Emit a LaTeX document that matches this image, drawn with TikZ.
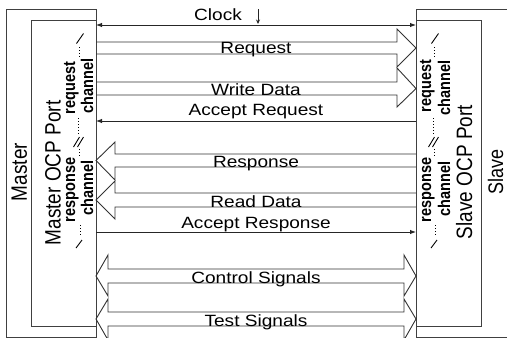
\documentclass[tikz,border=0pt]{standalone}
\usepackage{fontspec}
\usepackage{graphicx}
\setmainfont{Liberation Sans}
\newfontfamily\widefont{Liberation Sans}[FakeStretch=1.17]
\usetikzlibrary{arrows.meta}

% upright text for rotated labels, widened across the line direction
\newcommand{\uptext}[2]{\scalebox{1}[1.17]{\fontsize{#1}{#1}\selectfont #2}}

\begin{document}
\begin{tikzpicture}[x=1pt,y=-1pt,
  >={Latex[length=6pt,width=4.5pt]},
  box/.style={draw=black!75, line width=1pt, inner sep=0pt, outer sep=0pt},
  fat/.style={draw=black!80, line width=0.9pt, line join=miter},
  wire/.style={draw=black!85, line width=0.9pt},
  hlabel/.style={font=\widefont\fontsize{16.3}{19}\selectfont, anchor=base, inner sep=0pt},
  vlabel/.style={rotate=90, anchor=base, inner sep=0pt},
  marks/.style={draw=black, line width=0.9pt},
  dots/.style={draw=black, line width=1pt, dash pattern=on 1pt off 2pt}
]
\useasboundingbox (0,0) rectangle (507,338);
\clip (0,0) rectangle (507,338);

% component and port boxes
\node[box, anchor=north west, minimum width=90pt, minimum height=328pt] (master) at (6,9) {};
\node[box, anchor=north west, minimum width=65pt, minimum height=306pt] (mport) at (31,20) {};
\node[box, anchor=north west, minimum width=130pt, minimum height=328pt] (slave) at (416,9) {};
\node[box, anchor=north west, minimum width=65pt, minimum height=306pt] (sport) at (416,20) {};

% box titles
\node[vlabel] (mtitle) at (27,172) {\uptext{19}{Master}};
\node[vlabel] (mporttitle) at (60.5,173) {\uptext{19}{Master OCP Port}};
\node[vlabel] (sporttitle) at (472,172) {\uptext{19}{Slave OCP Port}};
\node[vlabel] (stitle) at (503,171.5) {\uptext{18}{Slave}};

% channel captions
\node[vlabel] (mreq) at (75,88) {\uptext{14.5}{\bfseries request}};
\node[vlabel] (mreqch) at (93,86) {\uptext{14.5}{\bfseries channel}};
\node[vlabel] (mresp) at (75,190) {\uptext{14.5}{\bfseries response}};
\node[vlabel] (mrespch) at (93,188) {\uptext{14.5}{\bfseries channel}};
\node[vlabel] (sreq) at (431,86) {\uptext{14.5}{\bfseries request}};
\node[vlabel] (sreqch) at (450,88) {\uptext{14.5}{\bfseries channel}};
\node[vlabel] (sresp) at (431,190) {\uptext{14.5}{\bfseries response}};
\node[vlabel] (srespch) at (450,189) {\uptext{14.5}{\bfseries channel}};

% channel range markers: slashes and dotted leaders
\foreach \cx in {79,434}{
  \draw[marks] (\cx-2.5,43.5) -- (\cx+4.5,33.5);
  \draw[dots] (\cx,47) -- (\cx,59);
  \draw[dots] (\cx-1,118) -- (\cx-1,135);
  \draw[marks] (\cx-5.5,147) -- (\cx+0.5,137);
  \draw[marks] (\cx-1.5,147) -- (\cx+4.5,137);
  \draw[dots] (\cx,149) -- (\cx,157);
  \draw[dots] (\cx+1,225) -- (\cx+1,237);
  \draw[marks] (\cx-3,248) -- (\cx+3,240);
}

% clock
\coordinate (clkM) at (96,25);
\coordinate (clkS) at (416,25);
\draw[wire, <->] (clkM) -- (clkS);
\node[hlabel] (clk) at (218,20) {Clock};
\coordinate (tickA) at (258,9);
\coordinate (tickB) at (258,24);
\draw[wire, line width=0.8pt, -{Stealth[length=4.5pt,width=4pt]}] (tickA) -- (tickB);

% request channel
\draw[fat] (96,42) -- (397,42) -- (397,29) -- (416,48) -- (397,67) -- (397,54) -- (96,54);
\node[hlabel] (lreq) at (256,53.5) {Request};
\draw[fat] (96,82) -- (397,82) -- (397,68) -- (416,88.5) -- (397,107) -- (397,95) -- (96,95);
\node[hlabel] (lwd) at (256,95) {Write Data};
\coordinate (acqS) at (416,121);
\coordinate (acqM) at (96,121);
\draw[wire, ->] (acqS) -- (acqM);
\node[hlabel] (lacq) at (256,115) {Accept Request};

% response channel
\draw[fat] (416,154) -- (115,154) -- (115,142) -- (96,160.5) -- (115,180) -- (115,167) -- (416,167);
\node[hlabel] (lresp) at (256,167) {Response};
\draw[fat] (416,193) -- (115,193) -- (115,181) -- (96,200) -- (115,219) -- (115,207) -- (416,207);
\node[hlabel] (lrd) at (256,207) {Read Data};
\coordinate (acrM) at (96,232);
\coordinate (acrS) at (416,232);
\draw[wire, ->] (acrM) -- (acrS);
\node[hlabel] (lacr) at (256,228) {Accept Response};

% sideband signals
\draw[fat] (108,269) -- (404,269) -- (404,255) -- (416,276) -- (404,296) -- (404,283)
  -- (108,283) -- (108,296) -- (96,276) -- (108,255) -- cycle;
\node[hlabel] (lctl) at (256,283) {Control Signals};
\draw[fat] (108,312) -- (404,312) -- (404,299) -- (416,319) -- (404,340) -- (404,326)
  -- (108,326) -- (108,340) -- (96,319) -- (108,299) -- cycle;
\node[hlabel] (ltst) at (256,326) {Test Signals};
\end{tikzpicture}
\end{document}
